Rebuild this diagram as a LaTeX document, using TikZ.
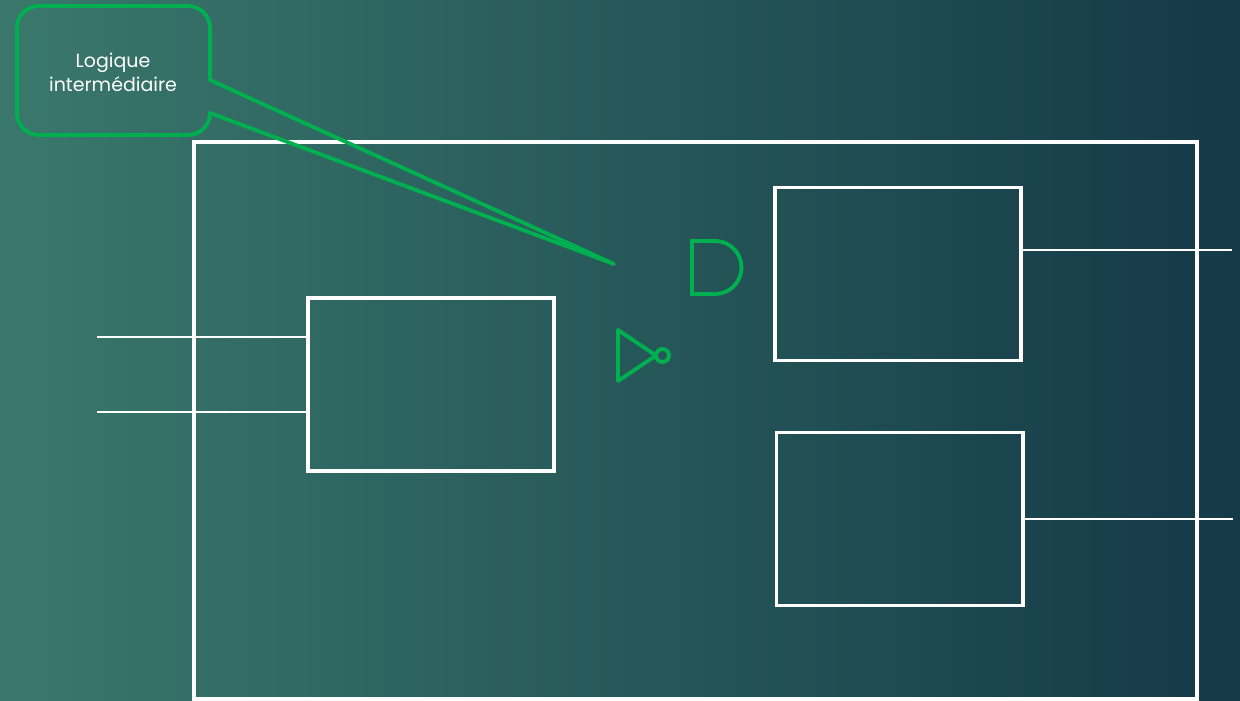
\documentclass[tikz,border=0pt]{standalone}
\usepackage{fontspec}
\setmainfont{Poppins}
\usetikzlibrary{positioning}
\definecolor{bgleft}{RGB}{58,120,108}
\definecolor{bgright}{RGB}{20,57,71}
\definecolor{gategreen}{RGB}{0,176,80}
\tikzset{
	block/.style={draw=white, line width=1.1pt, minimum width=2.46cm, minimum height=1.73cm, inner sep=0pt},
	wire/.style={draw=white, line width=0.55pt},
	gate/.style={draw=gategreen, line width=1.1pt},
}

\begin{document}
\begin{tikzpicture}[x=0.01cm, y=-0.01cm]
	%background
	\shade[left color=bgleft, right color=bgright] (0,0) rectangle (1240,700);
	\useasboundingbox (0,0) rectangle (1240,700);
	
	%component
	\node[draw=white, line width=1.1pt, minimum width=10.03cm, minimum height=5.57cm, inner sep=0pt] (chip) at (695.5,420.5) {};
	\node[block] (logicA) at (431,384.5) {};
	\node[block] (logicB) at (898,274) {};
	\node[block] (logicC) at (899.5,519) {};
	
	%inputs
	\coordinate (inA) at (97,337);
	\coordinate (inB) at (97,412);
	\draw[wire] (inA) -- (inA -| logicA.west);
	\draw[wire] (inB) -- (inB -| logicA.west);
	
	%outputs
	\coordinate (outA) at (1232,250);
	\coordinate (outB) at (1233,519);
	\draw[wire] (logicB.east |- outA) -- (outA);
	\draw[wire] (logicC.east |- outB) -- (outB);
	
	%gates
	\draw[gate] (715,241) -- (692,241) -- (692,294) -- (715,294) arc[start angle=-90, end angle=90, radius=0.265cm];
	\draw[gate, line join=round] (618,330) -- (656,355.5) -- (618,381) -- cycle;
	\draw[gate] (662.5,355.5) circle[radius=0.065cm];
	
	%callout
	\node[text=white, align=center, font=\fontsize{5.4}{6.9}\selectfont] (note) at (113,72) {Logique\\intermédiaire};
	\coordinate (tip) at (614,264);
	\draw[gate, line join=round] (210,80) -- (210,28) arc[start angle=0, end angle=90, radius=0.22cm]
		-- (39,6) arc[start angle=90, end angle=180, radius=0.22cm]
		-- (17,113) arc[start angle=180, end angle=270, radius=0.22cm]
		-- (188,135) arc[start angle=270, end angle=360, radius=0.22cm]
		-- (tip) -- cycle;
\end{tikzpicture}
\end{document}
